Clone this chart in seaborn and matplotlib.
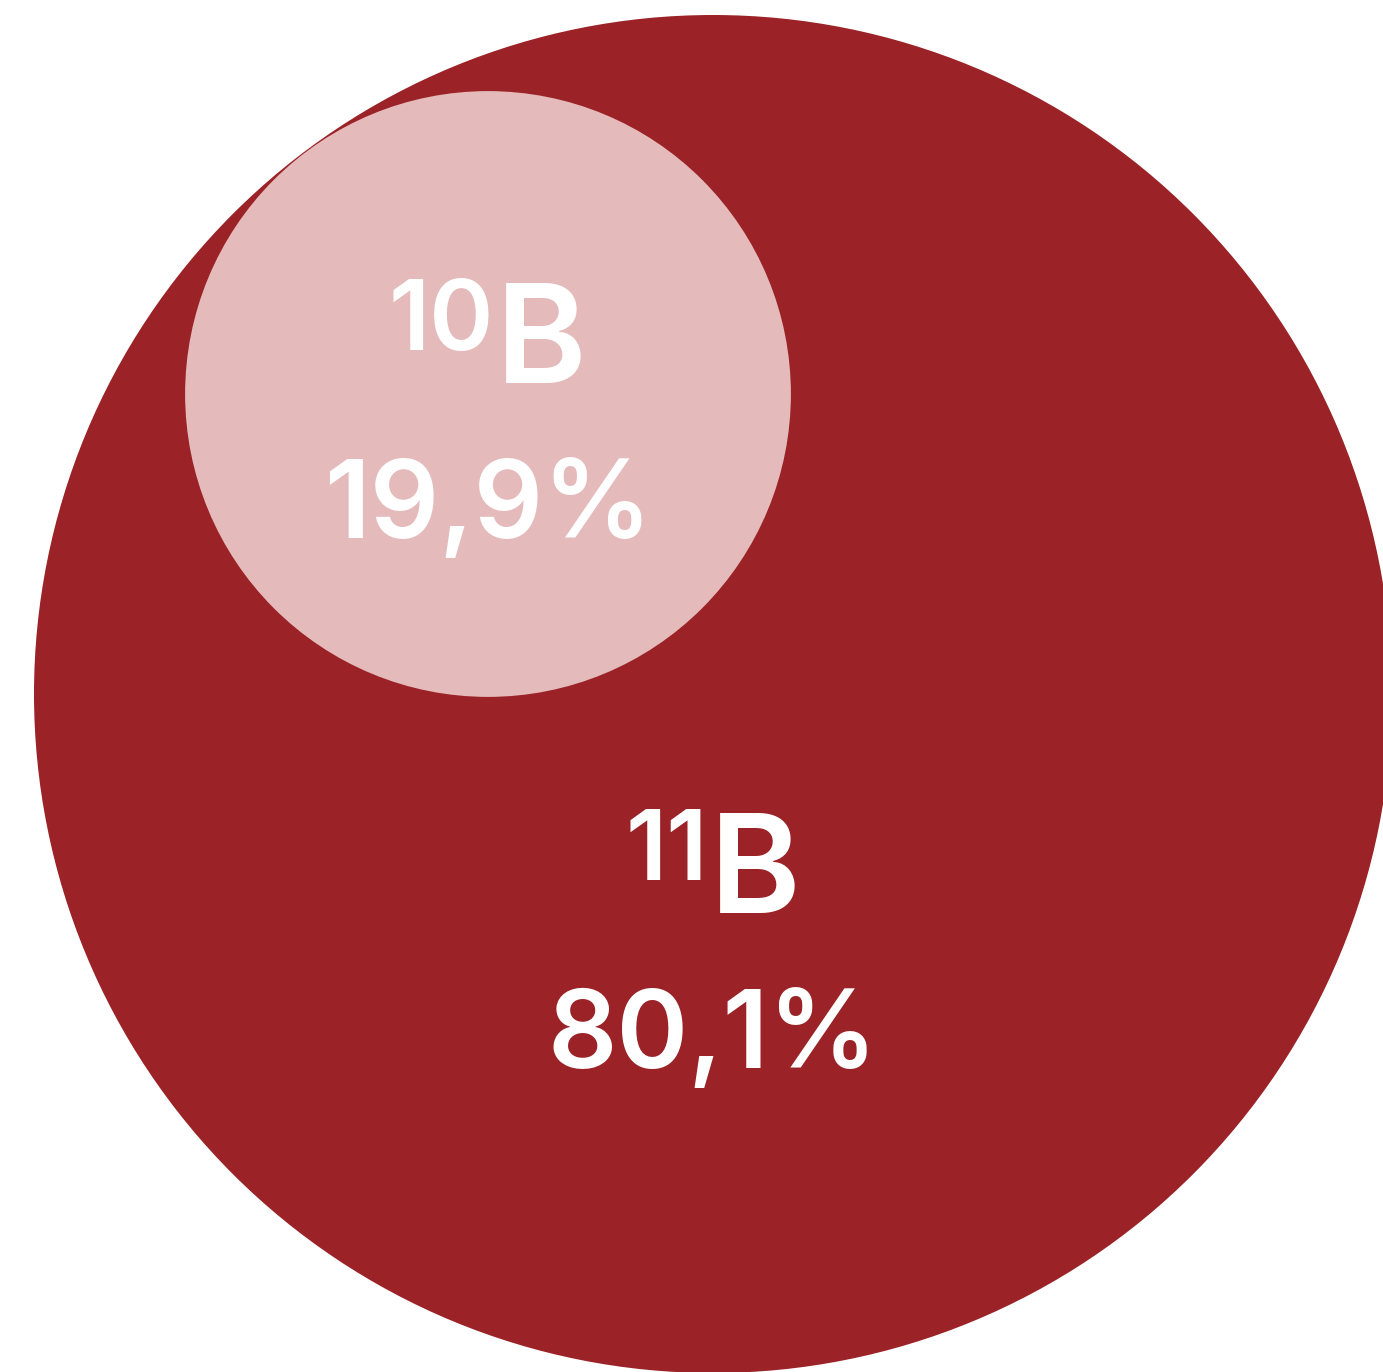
import matplotlib.pyplot as plt
import seaborn as sns
import numpy as np
from matplotlib.patches import Circle

# isotope shares of natural boron
isotopes = ["11", "10"]
element = "B"
shares = [80.1, 19.9]
share_labels = ["80,1%", "19,9%"]
colors = ["#9B2226", "#E4BABB"]

sns.set_theme(style="white")
plt.rcParams['font.family'] = ['Inter', 'DejaVu Sans']

W, H = 1383, 1372
fig = plt.figure(figsize=(W / 100, H / 100), dpi=100)
ax = fig.add_axes([0, 0, 1, 1])
ax.set_xlim(0, W)
ax.set_ylim(H, 0)
ax.set_aspect('equal')
ax.axis('off')

# big circle is all boron, small circle area is the 10B share
R = 679
areas = [sum(shares), shares[1]]
radii = [R * np.sqrt(a / 100) for a in areas]
centers = [(713, 694), (488, 394)]
label_pos = [(713, 913), (488, 383)]  # baseline of the symbol line

for (cx, cy), r, c in zip(centers, radii, colors):
    ax.add_patch(Circle((cx, cy), r, facecolor=c, edgecolor='none'))

fig.canvas.draw()
renderer = fig.canvas.get_renderer()

for iso, lab, (lx, ly) in zip(isotopes, share_labels, label_pos):
    sup = ax.text(lx, ly - 33, iso, fontsize=70, color='white',
                  ha='right', va='baseline', fontweight='semibold')
    sym = ax.text(lx, ly, element, fontsize=99, color='white',
                  ha='left', va='baseline', fontweight='semibold')
    # center the combined superscript + symbol
    b1 = sup.get_window_extent(renderer)
    b2 = sym.get_window_extent(renderer)
    gap = 2
    total = b1.width + gap + b2.width
    left = lx - total / 2
    sup.set_x(left + b1.width)
    sym.set_x(left + b1.width + gap)
    ax.text(lx, ly + 155, lab, fontsize=78, color='white',
            ha='center', va='baseline', fontweight='semibold')

fig.savefig("out.png", dpi=100)
